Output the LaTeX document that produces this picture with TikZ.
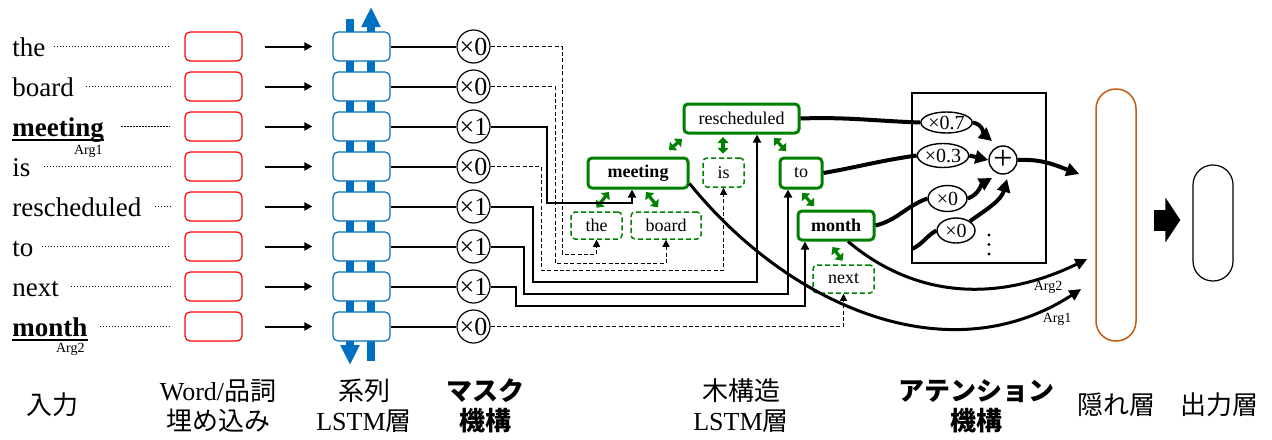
\documentclass[tikz,border=0pt]{standalone}
\usepackage{fontspec}
\setmainfont{Liberation Serif}
\newfontfamily\jp{Noto Sans CJK JP}
\usetikzlibrary{arrows.meta,shapes.geometric,calc}
\definecolor{lstmblue}{RGB}{0,112,192}
\definecolor{treegreen}{RGB}{0,128,0}
\definecolor{hidorange}{RGB}{197,90,17}

\begin{document}
\begin{tikzpicture}[x=0.5pt,y=-0.5pt,
  word/.style={anchor=base west, inner sep=0pt, font=\fontsize{13.5}{16}\selectfont},
  tag/.style={inner sep=0pt, font=\fontsize{7}{7}\selectfont},
  wordlink/.style={line width=0.9pt, dash pattern=on 0.7pt off 0.8pt},
  embbox/.style={draw=red, line width=0.6pt, rounded corners=2.5pt, minimum width=28.5pt, minimum height=14.5pt, inner sep=0pt},
  lstmbox/.style={draw=lstmblue, fill=white, line width=0.6pt, rounded corners=2.5pt, minimum width=28.5pt, minimum height=14.5pt, inner sep=0pt},
  blueflow/.style={lstmblue, line width=4pt, -{Triangle[length=10pt,width=9pt]}},
  feed/.style={line width=1pt, -{Triangle[length=4pt,width=4pt]}},
  gate/.style={circle, draw, line width=0.6pt, minimum size=16.5pt, inner sep=0pt, font=\fontsize{13}{13}\selectfont},
  link/.style={line width=1pt},
  passon/.style={line width=1pt, -{Triangle[length=4pt,width=4pt]}},
  passoff/.style={line width=0.5pt, dash pattern=on 2pt off 1.2pt, -{Triangle[length=3.5pt,width=3.5pt]}},
  tnode/.style={draw=treegreen, line width=1.5pt, rounded corners=2pt, inner sep=0pt, font=\fontsize{9}{9}\selectfont},
  leaf/.style={draw=treegreen, line width=0.75pt, dash pattern=on 2.5pt off 1.5pt, rounded corners=2pt, inner sep=0pt, font=\fontsize{9}{9}\selectfont},
  tlink/.style={treegreen, line width=1.6pt, {Triangle[length=3pt,width=5.5pt]}-{Triangle[length=3pt,width=5.5pt]}},
  weight/.style={ellipse, draw, line width=0.7pt, inner sep=0pt, font=\fontsize{10}{10}\selectfont},
  heavy/.style={line width=2pt},
  heavyarrow/.style={line width=2pt, -{Triangle[length=6.5pt,width=6.5pt]}},
  argcurve/.style={line width=1.5pt, -{Triangle[length=6pt,width=5.5pt]}},
  caption/.style={align=center, inner sep=0pt, font=\fontsize{13}{15}\selectfont},
  jcaption/.style={align=center, inner sep=0pt, font=\fontsize{13}{15}\selectfont\jp},
  jbcaption/.style={align=center, inner sep=0pt, font=\fontsize{13}{15}\selectfont\jp\bfseries}
]
\useasboundingbox (0,0) rectangle (1272,439);

% input words
\node[word] (w0) at (12,56) {the};
\node[word] (w1) at (12,96) {board};
\node[word] (w2) at (12,136) {\textbf{meeting}};
\node[word] (w3) at (12,176) {is};
\node[word] (w4) at (12,216) {rescheduled};
\node[word] (w5) at (12,256) {to};
\node[word] (w6) at (12,296) {next};
\node[word] (w7) at (12,336) {\textbf{month}};
\draw[line width=0.9pt] ([yshift=-2pt]w2.base west) -- ([yshift=-2pt]w2.base east);
\draw[line width=0.9pt] ([yshift=-2pt]w7.base west) -- ([yshift=-2pt]w7.base east);
\node[tag, anchor=east] (arg1w) at (103,151) {Arg1};
\node[tag, anchor=east] (arg2w) at (85,349) {Arg2};

% bidirectional flow of the sequential LSTM
\draw[blueflow] (350,19) -- (350,365);
\draw[blueflow] (371,361) -- (371,7);

% embeddings, sequential LSTM cells and mask gates
\foreach \k/\g/\gap in {0/0/8,1/0/11.5,2/1/17,3/0/13,4/1/13,5/1/8,6/1/11.5,7/0/12} {
  \node[embbox] (r\k) at (213.5,46.5+40*\k) {};
  \node[lstmbox] (l\k) at (361.5,46.5+40*\k) {};
  \node[gate] (m\k) at (473.5,46.5+40*\k) {×\g};
  \draw[wordlink] ($(w\k.east |- r\k)+(\gap,0)$) -- ([xshift=-7pt]r\k.west);
  \draw[feed] ([xshift=11pt]r\k.east) -- ([xshift=-10pt]l\k.west);
  \draw[link] (l\k.east) -- (m\k.west);
}

% tree-structured LSTM
\node[tnode, minimum width=57.5pt, minimum height=14.5pt] (t_resch) at (741.5,118.5) {rescheduled};
\node[tnode, minimum width=50pt, minimum height=15pt, font=\fontsize{9}{9}\selectfont\bfseries] (t_meet) at (638,173) {meeting};
\node[tnode, minimum width=21pt, minimum height=15pt] (t_to) at (801,173) {to};
\node[tnode, minimum width=38pt, minimum height=14.5pt, font=\fontsize{9}{9}\selectfont\bfseries] (t_month) at (836,225.5) {month};
\node[leaf, minimum width=25.5pt, minimum height=13.5pt] (t_the) at (596.5,225.5) {the};
\node[leaf, minimum width=35pt, minimum height=13.5pt] (t_board) at (666,225.5) {board};
\node[leaf, minimum width=20.5pt, minimum height=14.5pt] (t_is) at (723.5,172.5) {is};
\node[leaf, minimum width=30.5pt, minimum height=14pt] (t_next) at (843.5,279) {next};

\draw[tlink] ([shift={(0,-3.5)}]t_the.north) -- ([shift={(-29,2.5)}]t_meet.south);
\draw[tlink] ([shift={(8,2.5)}]t_meet.south) -- ([shift={(-8,-4)}]t_board.north);
\draw[tlink] ([shift={(31,-6.5)}]t_meet.north) -- ([shift={(-59.5,4.5)}]t_resch.south);
\draw[tlink] ([shift={(-0.5,-3.5)}]t_is.north) -- ([shift={(-18.5,2.5)}]t_resch.south);
\draw[tlink] ([shift={(-15,-5.5)}]t_to.north) -- ([shift={(32.5,3.5)}]t_resch.south);
\draw[tlink] ([shift={(-22,-3.5)}]t_month.north) -- ([shift={(1,3.5)}]t_to.south);
\draw[tlink] ([shift={(-1,-3.5)}]t_next.north) -- ([shift={(-3.5,5.5)}]t_month.south);

% routing of the gated outputs into the tree
\coordinate (k0) at (562,254);
\coordinate (k1) at (555,263);
\coordinate (k2) at (547,203);
\coordinate (k3) at (541,270);
\coordinate (k4) at (533,282);
\coordinate (k5) at (524,293.5);
\coordinate (k6) at (516,305.5);
\draw[passoff] (m0.east) -| (k0) -| (t_the.south);
\draw[passoff] (m1.east) -| (k1) -| (t_board.south);
\draw[passoff] (m3.east) -| (k3) -| (t_is.south);
\draw[passoff] (m7.east) -| (t_next.south);
\draw[passon] (m2.east) -| (k2) -| ([xshift=-3pt]t_meet.south);
\draw[passon] (m4.east) -| (k4) -| ([xshift=7.75pt]t_resch.south);
\draw[passon] (m5.east) -| (k5) -| ([xshift=-6.5pt]t_to.south);
\draw[passon] (m6.east) -| (k6) -| ([xshift=-15.5pt]t_month.south);

% attention mechanism
\node[draw, line width=0.6pt, minimum width=67pt, minimum height=85pt, inner sep=0pt] (att) at (979,178) {};
\node[weight, minimum width=24.5pt, minimum height=10.5pt] (e1) at (946.5,122.5) {×0.7};
\node[weight, minimum width=23pt, minimum height=12pt] (e2) at (943,155.5) {×0.3};
\node[weight, minimum width=19.5pt, minimum height=13pt] (e3) at (947.5,198.5) {×0};
\node[weight, minimum width=19pt, minimum height=12.5pt] (e4) at (956,230.5) {×0};
\node[circle, draw, line width=0.7pt, minimum size=14pt, inner sep=0pt, font=\fontsize{17}{17}\selectfont] (p) at (1003,160) {+};
\foreach \yy in {235,244.5,254} \fill (989,\yy) circle (0.8pt);
\coordinate (a4) at (912,249);

\draw[heavy] (t_resch.east) to[out=2,in=178] (e1.west);
\draw[heavy] (t_to.east) to[out=10,in=188] (e2.west);
\draw[heavy] (t_month.east) to[out=14,in=200] (e3.west);
\draw[heavy] (a4) to[out=25,in=210] (e4.west);

\draw[heavyarrow] (e1.east) to[out=-10,in=140] ([shift={(-11,-19)}]p.center);
\draw[heavyarrow] (e2.east) -- (p.west);
\draw[heavyarrow] (e3.east) to[out=20,in=210] ([shift={(-11,18)}]p.center);
\draw[heavyarrow] (e4.north east) to[out=35,in=255] ([shift={(4,19)}]p.center);

% hidden and output layers
\node[draw=hidorange, line width=0.75pt, rounded corners=9.9pt, minimum width=20pt, minimum height=126pt, inner sep=0pt] (h) at (1116,215) {};
\node[draw, line width=0.6pt, rounded corners=9.9pt, minimum width=20pt, minimum height=58pt, inner sep=0pt] (o) at (1213,223) {};

\draw[heavyarrow] (p.east) to[out=3,in=160] ([shift={(-16,-41)}]h.west);
\draw[argcurve] ([shift={(0,-6)}]t_meet.south east) to[out=-51,in=213] ([shift={(-14,74)}]h.west);
\draw[argcurve] ([xshift=6pt]t_month.south) to[out=-40,in=206] ([shift={(-8,44)}]h.west);
\node[tag] (lbl2) at (1048,287) {Arg2};
\node[tag] (lbl1) at (1057,319) {Arg1};

\draw[line width=10.5pt, -{Triangle[length=7.5pt,width=22pt]}] ([shift={(17,5)}]h.east) -- ([shift={(-12,-3)}]o.west);

% layer captions
\node[jcaption] (c_in) at (52,405) {入力};
\node[caption] (c_emb) at (218,406) {Word/{\jp 品詞}\\{\jp 埋め込み}};
\node[caption] (c_seq) at (364,406) {{\jp 系列}\\LSTM{\jp 層}};
\node[jbcaption] (c_mask) at (485,406) {マスク\\機構};
\node[caption] (c_tree) at (741,406) {{\jp 木構造}\\LSTM{\jp 層}};
\node[jbcaption] (c_att) at (976,406) {アテンション\\機構};
\node[jcaption] (c_hid) at (1116,405) {隠れ層};
\node[jcaption] (c_out) at (1219,405) {出力層};
\end{tikzpicture}
\end{document}
